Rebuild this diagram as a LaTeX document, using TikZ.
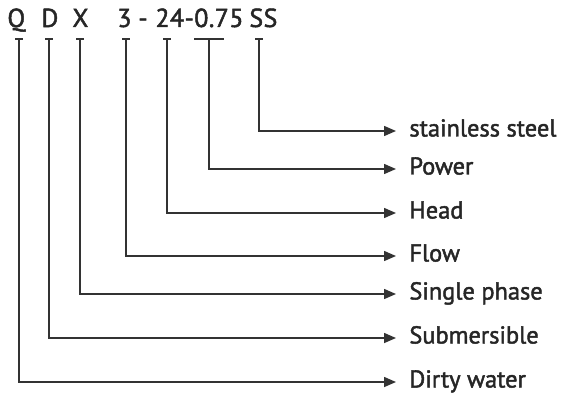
\documentclass[tikz,border=0pt]{standalone}
\usepackage{fontspec}
\setmainfont{PT Sans}[FakeBold=1.8]
\usetikzlibrary{arrows.meta,positioning}

\begin{document}
\begin{tikzpicture}[
  x=0.5pt, y=-0.5pt,
  code/.style={anchor=base west, inner sep=0pt, text=black!85, font=\fontsize{13}{14}\selectfont\addfontfeature{LetterSpace=1.5}},
  lbl/.style={anchor=west, inner xsep=6.5pt, inner ysep=0pt, text height=1.55ex, text depth=0.45ex, text=black!85, font=\fontsize{12.2}{14}\selectfont},
  arr/.style={-{Triangle[length=6pt,width=5pt]}, line width=0.75pt, draw=black!80},
  tee/.style={line width=0.75pt, draw=black!80}
]
  \useasboundingbox (0,0) rectangle (565,400);
  % model code
  \node[code] (cq) at (7,27) {Q};
  \node[code] (cd) at (41,27) {D};
  \node[code] (cx) at (72,27) {X};
  \node[code] (cf) at (117,27) {3};
  \node[code] (cdash) at (138,27) {-};
  \node[code] (chp) at (155,27) {24-0.75};
  \node[code] (css) at (249,27) {SS};
  % tee tops
  \coordinate (tq) at (19,39);
  \coordinate (td) at (49,39);
  \coordinate (tx) at (80,39);
  \coordinate (tf) at (126,39);
  \coordinate (th) at (167,39);
  \coordinate (tp) at (209,39);
  \coordinate (tss) at (259,39);
  % meanings
  \node[lbl] (lss) at (396,131) {stainless steel};
  \node[lbl] (lp) at (396,169) {Power};
  \node[lbl] (lh) at (396,213) {Head};
  \node[lbl] (lf) at (396,256) {Flow};
  \node[lbl] (lx) at (396,294) {Single phase};
  \node[lbl] (ld) at (396,338) {Submersible};
  \node[lbl] (lq) at (396,382) {Dirty water};
  % bars and leaders
  \foreach \t in {tq,td,tx,tf,th,tss}
    \draw[tee] ([xshift=-2pt]\t) -- ([xshift=2pt]\t);
  \draw[tee] ([xshift=-7.5pt]tp) -- ([xshift=7.5pt]tp);
  \draw[arr] (tss) |- (lss.west);
  \draw[arr] (tp) |- (lp.west);
  \draw[arr] (th) |- (lh.west);
  \draw[arr] (tf) |- (lf.west);
  \draw[arr] (tx) |- (lx.west);
  \draw[arr] (td) |- (ld.west);
  \draw[arr] (tq) |- (lq.west);
\end{tikzpicture}
\end{document}
